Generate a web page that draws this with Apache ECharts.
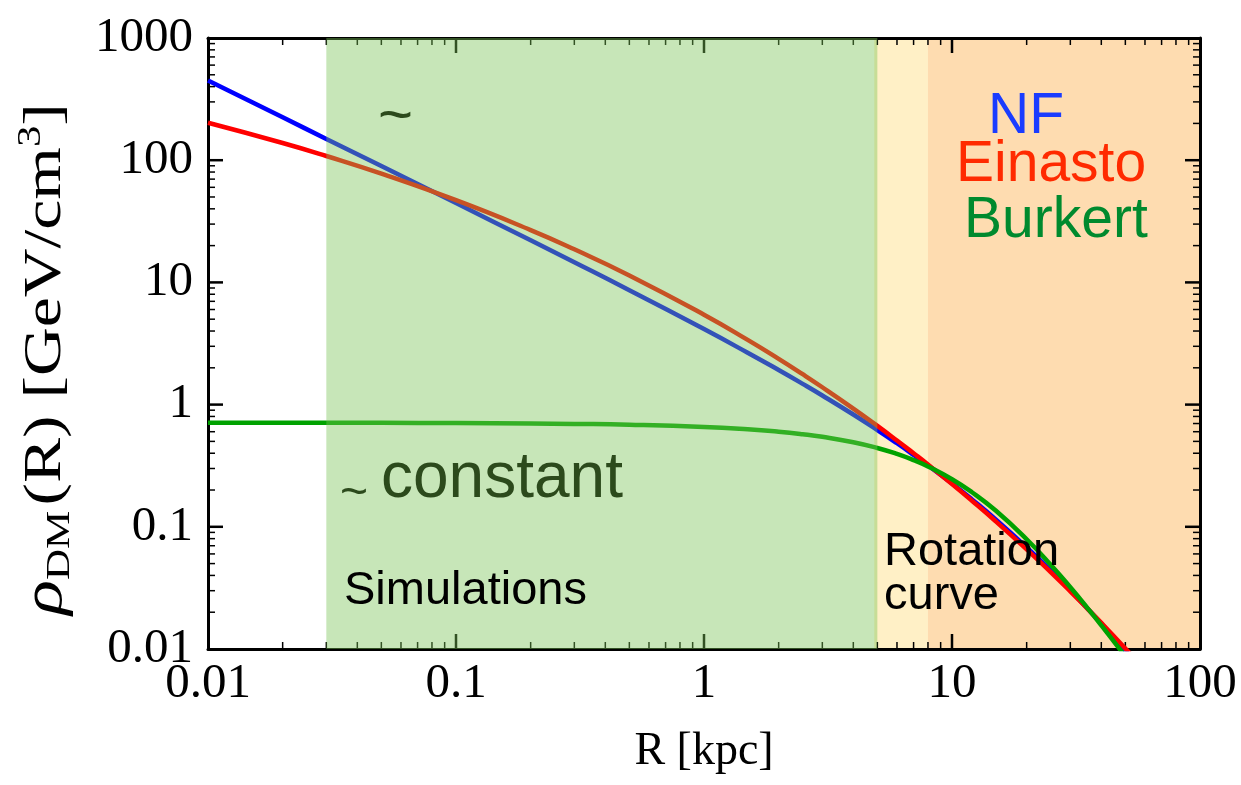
<!DOCTYPE html>
<html>
<head>
<meta charset="utf-8">
<script src="https://cdn.jsdelivr.net/npm/echarts@6/dist/echarts.min.js"></script>
<style>
  html, body { margin: 0; padding: 0; background: #fff; }
  #chart { width: 1241px; height: 785px; }
</style>
</head>
<body>
<div id="chart"></div>
<script>
// Galactocentric radius samples [kpc]
const radius = [0.01, 0.02, 0.03, 0.05, 0.1, 0.2, 0.3, 0.5, 1, 1.5, 2, 2.5, 3, 4, 5, 6, 7, 8, 10, 12, 15, 20, 25, 30, 35, 40, 50, 60];

// Dark-matter density profiles [GeV/cm^3]
const nfwDensity = [449, 224.3, 149.4, 89.5, 44.57, 22.10, 14.62, 8.63, 4.147, 2.659, 1.919, 1.479, 1.188, 0.8294, 0.619, 0.4826, 0.3877, 0.3187, 0.2262, 0.1683, 0.1150, 0.0679, 0.04388, 0.03016, 0.02168, 0.01614, 0.009676, 0.006266];
const einastoDensity = [202.5, 138.3, 108.2, 77.6, 47.04, 26.81, 18.65, 11.41, 5.445, 3.385, 2.367, 1.772, 1.387, 0.928, 0.670, 0.5082, 0.3998, 0.3234, 0.2241, 0.1643, 0.1110, 0.0654, 0.04259, 0.02965, 0.02162, 0.01635, 0.01010, 0.00672];
const burkertDensity = [0.7114, 0.7109, 0.7103, 0.7092, 0.7064, 0.7008, 0.6951, 0.6839, 0.6558, 0.6278, 0.6000, 0.5724, 0.5451, 0.4921, 0.4417, 0.3947, 0.3514, 0.3120, 0.2452, 0.1928, 0.1358, 0.0791, 0.04894, 0.0320, 0.02193, 0.01562, 0.008685, 0.0053];

// Radial ranges probed by each method [kpc]
const simulationRange = [0.03, 5];
const rotationRange = [4.86, 8];
const outerRange = [8, 100];

// Axis ranges, tick positions and tick labels
const xRange = [0.01, 100];
const yRange = [0.01, 1000];
const xTickLabels = ['0.01', '0.1', '1', '10', '100'];
const yTickLabels = ['0.01', '0.1', '1', '10', '100', '1000'];
const xMajorTicks = [0.1, 1, 10];
const yMajorTicks = [0.1, 1, 10, 100];
const xMinorTicks = [0.02,0.03,0.04,0.05,0.06,0.07,0.08,0.09, 0.2,0.3,0.4,0.5,0.6,0.7,0.8,0.9, 2,3,4,5,6,7,8,9, 20,30,40,50,60,70,80,90];
const yMinorTicks = [0.02,0.03,0.04,0.05,0.06,0.07,0.08,0.09, 0.2,0.3,0.4,0.5,0.6,0.7,0.8,0.9, 2,3,4,5,6,7,8,9, 20,30,40,50,60,70,80,90, 200,300,400,500,600,700,800,900];

const SERIF = '"Liberation Serif", "DejaVu Serif", serif';
const SANS = '"Liberation Sans", Arial, sans-serif';

const pairs = vals => radius.map((r, i) => [r, vals[i]]);

function decadeLabel(labels, lo) {
  return v => labels[Math.round(Math.log10(v) - Math.log10(lo))] || '';
}

function bandSeries(range, color, z) {
  return {
    type: 'custom',
    z: z,
    silent: true,
    data: [[range[0], range[1]]],
    renderItem: (params, api) => {
      const p0 = api.coord([api.value(0), yRange[1]]);
      const p1 = api.coord([api.value(1), yRange[0]]);
      return {
        type: 'rect',
        shape: { x: p0[0], y: p0[1], width: p1[0] - p0[0], height: p1[1] - p0[1] },
        style: { fill: color }
      };
    }
  };
}

// Inward ticks on the bottom and top edges at the given R values
function xTickSeries(values, len, width) {
  return {
    type: 'custom', z: 3, silent: true,
    data: values.map(v => [v, 1]),
    renderItem: (params, api) => {
      const b = api.coord([api.value(0), yRange[0]]);
      const t = api.coord([api.value(0), yRange[1]]);
      return {
        type: 'group',
        children: [
          { type: 'line', shape: { x1: b[0], y1: b[1], x2: b[0], y2: b[1] - len }, style: { stroke: '#000', lineWidth: width } },
          { type: 'line', shape: { x1: t[0], y1: t[1], x2: t[0], y2: t[1] + len }, style: { stroke: '#000', lineWidth: width } }
        ]
      };
    }
  };
}

// Inward ticks on the left and right edges at the given density values
function yTickSeries(values, len, width) {
  return {
    type: 'custom', z: 3, silent: true,
    data: values.map(v => [1, v]),
    renderItem: (params, api) => {
      const l = api.coord([xRange[0], api.value(1)]);
      const r = api.coord([xRange[1], api.value(1)]);
      return {
        type: 'group',
        children: [
          { type: 'line', shape: { x1: l[0], y1: l[1], x2: l[0] + len, y2: l[1] }, style: { stroke: '#000', lineWidth: width } },
          { type: 'line', shape: { x1: r[0], y1: r[1], x2: r[0] - len, y2: r[1] }, style: { stroke: '#000', lineWidth: width } }
        ]
      };
    }
  };
}

const AXIS_Z = 3;

const chart = echarts.init(document.getElementById('chart'), null, { renderer: 'canvas' });

const axisLineStyle = { color: '#000', width: 3 };
const tickFont = { fontFamily: SERIF, fontSize: 49, color: '#000' };

function frameAxis(extra) {
  return Object.assign({
    type: 'log', logBase: 10, z: AXIS_Z,
    axisLine: { show: true, lineStyle: axisLineStyle },
    axisTick: { show: false },
    axisLabel: { show: false },
    splitLine: { show: false }
  }, extra);
}

chart.setOption({
  animation: false,
  backgroundColor: '#fff',
  grid: { left: 208, right: 41, top: 38, bottom: 136, containLabel: false },
  xAxis: [
    frameAxis({
      min: xRange[0], max: xRange[1],
      name: 'R [kpc]', nameLocation: 'middle', nameGap: 80,
      nameTextStyle: { fontFamily: SERIF, fontSize: 46, color: '#000' },
      axisLabel: Object.assign({ show: true, margin: 11, formatter: decadeLabel(xTickLabels, xRange[0]) }, tickFont)
    }),
    frameAxis({ min: xRange[0], max: xRange[1], position: 'top' })
  ],
  yAxis: [
    frameAxis({
      min: yRange[0], max: yRange[1],
      axisLabel: Object.assign({ show: true, margin: 15, formatter: decadeLabel(yTickLabels, yRange[0]) }, tickFont)
    }),
    frameAxis({ min: yRange[0], max: yRange[1], position: 'right' })
  ],
  series: [
    // Background regions: rotation-curve and outer halo
    bandSeries(rotationRange, '#fff0c6', 1),
    bandSeries(outerRange, '#fedcb0', 1),
    xTickSeries(xMinorTicks, 7, 1.5),
    yTickSeries(yMinorTicks, 7, 1.5),
    xTickSeries(xMajorTicks, 15, 2.5),
    yTickSeries(yMajorTicks, 15, 2.5),
    {
      name: 'NFW', type: 'line', z: 3, data: pairs(nfwDensity), smooth: true, showSymbol: false, clip: true,
      lineStyle: { color: '#0000ff', width: 4.5 }
    },
    {
      name: 'Einasto', type: 'line', z: 3, data: pairs(einastoDensity), smooth: true, showSymbol: false, clip: true,
      lineStyle: { color: '#ff0000', width: 4.5 }
    },
    {
      name: 'Burkert', type: 'line', z: 3, data: pairs(burkertDensity), smooth: true, showSymbol: false, clip: true,
      lineStyle: { color: '#00a200', width: 4.5 }
    },
    // Translucent simulation band laid over the curves
    bandSeries(simulationRange, 'rgba(122,195,86,0.42)', 4)
  ],
  graphic: [
    // Vertical axis title
    {
      type: 'text', z: 10, x: 46, y: 359, rotation: Math.PI / 2, scaleX: 1.3, scaleY: 1,
      style: {
        text: '{r|ρ}{s|DM}{n|(R) [GeV/cm}{p|3}{n|]}',
        align: 'center', verticalAlign: 'middle',
        rich: {
          r: { fontFamily: SERIF, fontStyle: 'italic', fontSize: 56, fill: '#000', lineHeight: 62, verticalAlign: 'middle' },
          s: { fontFamily: SERIF, fontSize: 33, fill: '#000', lineHeight: 62, verticalAlign: 'bottom', padding: [0, 4, 0, 0] },
          n: { fontFamily: SERIF, fontSize: 52, fill: '#000', lineHeight: 62, verticalAlign: 'middle' },
          p: { fontFamily: SERIF, fontSize: 33, fill: '#000', lineHeight: 62, verticalAlign: 'top' }
        }
      }
    },
    { type: 'text', z: 10, x: 378, y: 117, style: { text: '~', font: '60px ' + SANS, fill: '#2c4a1c', verticalAlign: 'middle' } },
    { type: 'text', z: 10, x: 340, y: 494, style: { text: '~', font: '48px ' + SANS, fill: '#2c4a1c', verticalAlign: 'middle' } },
    { type: 'text', z: 10, x: 381, y: 502 - 0.3465 * 64, style: { text: 'constant', font: '64px ' + SANS, fill: '#2c4a1c', verticalAlign: 'middle' } },
    { type: 'text', z: 10, x: 344, y: 607 - 0.3465 * 47, style: { text: 'Simulations', font: '47px ' + SANS, fill: '#000', verticalAlign: 'middle' } },
    { type: 'text', z: 10, x: 884, y: 568 - 0.3465 * 47, style: { text: 'Rotation', font: '47px ' + SANS, fill: '#000', verticalAlign: 'middle' } },
    { type: 'text', z: 10, x: 884, y: 612 - 0.3465 * 47, style: { text: 'curve', font: '47px ' + SANS, fill: '#000', verticalAlign: 'middle' } },
    { type: 'text', z: 10, x: 988, y: 137 - 0.3465 * 57, style: { text: 'NF', font: '57px ' + SANS, fill: '#1a3cff', verticalAlign: 'middle' } },
    { type: 'text', z: 10, x: 956, y: 185 - 0.3465 * 57, style: { text: 'Einasto', font: '57px ' + SANS, fill: '#ff2a00', verticalAlign: 'middle' } },
    { type: 'text', z: 10, x: 964, y: 241 - 0.3465 * 57, style: { text: 'Burkert', font: '57px ' + SANS, fill: '#008a2e', verticalAlign: 'middle' } }
  ]
});
</script>
</body>
</html>
